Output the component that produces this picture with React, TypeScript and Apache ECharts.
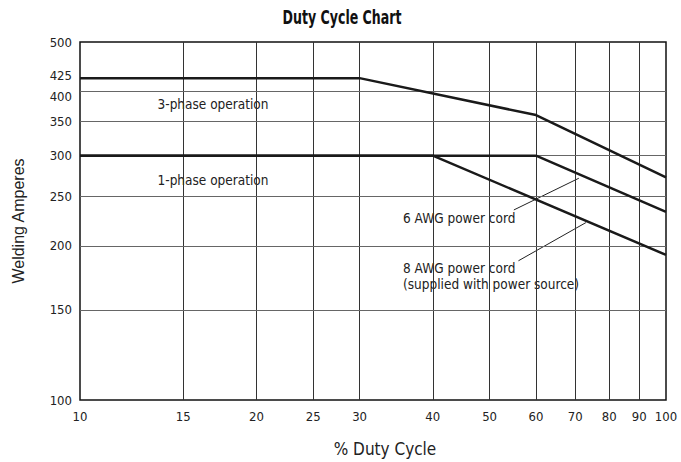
import React, { useEffect, useRef } from "react";
import * as echarts from "echarts";

const xTicks = [10, 15, 20, 25, 30, 40, 50, 60, 70, 80, 90, 100];
const yTicks = [100, 150, 200, 250, 300, 350, 400, 425, 500];
const xGrid = [15, 20, 25, 30, 40, 50, 60, 70, 80, 90];
const yGrid = [150, 200, 250, 300, 350, 400];

const threePhase = [[10, 425], [30, 425], [60, 360], [100, 272]];
const onePhase6AWG = [[10, 300], [60, 300], [100, 233]];
const onePhase8AWG = [[10, 300], [40, 300], [100, 192]];
const leader6AWG = [[55, 235], [71, 271]];
const leader8AWG = [[56, 187], [73, 222]];

const FONT = "'DejaVu Sans Condensed', 'Liberation Sans', sans-serif";

export default function App() {
  const ref = useRef<HTMLDivElement>(null);
  useEffect(() => {
    if (!ref.current) return;
    const chart = echarts.init(ref.current, null, { renderer: "svg" });
    const dataLine = (name: string, data: number[][]) => ({
      name,
      type: "line",
      data,
      symbol: "none",
      silent: true,
      lineStyle: { color: "#1a1a1a", width: 2.5 },
      z: 5,
    });
    const leader = (name: string, data: number[][]) => ({
      name,
      type: "line",
      data,
      symbol: "none",
      silent: true,
      lineStyle: { color: "#222", width: 1 },
      z: 4,
    });
    const annot = (text: string, x: number, y: number, align: string) => ({
      type: "text",
      x,
      y,
      silent: true,
      style: { text, fontFamily: FONT, fontSize: 13.5, fill: "#222", align, verticalAlign: "middle" },
    });
    chart.setOption({
      animation: false,
      backgroundColor: "#ffffff",
      grid: {
        left: 80,
        right: 15,
        top: 42,
        bottom: 61,
        show: true,
        borderColor: "#111",
        borderWidth: 1.5,
        backgroundColor: "transparent",
      },
      xAxis: {
        type: "log",
        logBase: 10,
        min: 10,
        max: 100,
        name: "% Duty Cycle",
        nameLocation: "middle",
        nameGap: 40,
        nameTextStyle: { fontFamily: FONT, fontSize: 17, color: "#222", padding: [0, 0, 0, 24] },
        axisLine: { show: false },
        axisTick: { show: false },
        splitLine: { show: false },
        axisLabel: {
          customValues: xTicks,
          formatter: (v: number) => String(Math.round(v)),
          fontFamily: FONT,
          fontSize: 13,
          color: "#222",
          margin: 10,
        },
      },
      yAxis: {
        type: "log",
        logBase: 10,
        min: 100,
        max: 500,
        name: "Welding Amperes",
        nameLocation: "middle",
        nameGap: 54,
        nameTextStyle: { fontFamily: "'Liberation Sans', 'DejaVu Sans', sans-serif", fontSize: 16, color: "#222" },
        axisLine: { show: false },
        axisTick: { show: false },
        splitLine: { show: false },
        axisLabel: {
          customValues: yTicks,
          formatter: (v: number) => {
            const r = Math.round(v);
            if (r === 425) return "{up|425}";
            if (r === 400) return "{dn|400}";
            return String(r);
          },
          fontFamily: FONT,
          fontSize: 13,
          color: "#222",
          margin: 8,
          rich: {
            up: { fontFamily: FONT, fontSize: 13, color: "#222", padding: [0, 0, 6, 0] },
            dn: { fontFamily: FONT, fontSize: 13, color: "#222", padding: [10, 0, 0, 0] },
          },
        },
      },
      series: [
        {
          name: "grid",
          type: "line",
          data: [],
          silent: true,
          markLine: {
            silent: true,
            symbol: "none",
            label: { show: false },
            animation: false,
            data: [
              ...xGrid.map((v) => ({ xAxis: v, lineStyle: { color: "#333", width: 1, type: "solid" } })),
              ...yGrid.map((v) => ({ yAxis: v, lineStyle: { color: "#666", width: 1, type: "solid" } })),
            ],
          },
        },
        dataLine("3-phase operation", threePhase),
        dataLine("1-phase 6 AWG", onePhase6AWG),
        dataLine("1-phase 8 AWG", onePhase8AWG),
        leader("6 AWG leader", leader6AWG),
        leader("8 AWG leader", leader8AWG),
      ],
      graphic: [
        {
          type: "text",
          x: 342,
          y: 17,
          scaleX: 0.7,
          silent: true,
          style: {
            text: "Duty Cycle Chart",
            fontFamily: FONT,
            fontSize: 20,
            fontWeight: "bold",
            fill: "#111",
            align: "center",
            verticalAlign: "middle",
          },
        },
        annot("3-phase operation", 213, 104, "center"),
        annot("1-phase operation", 213, 180, "center"),
        annot("6 AWG power cord", 403, 218, "left"),
        annot("8 AWG power cord", 403, 268, "left"),
        annot("(supplied with power source)", 403, 284, "left"),
      ],
    });
    return () => chart.dispose();
  }, []);
  return (
    <div
      ref={ref}
      style={{ position: "fixed", left: 0, top: 0, width: 681, height: 462, background: "#fff" }}
    />
  );
}
